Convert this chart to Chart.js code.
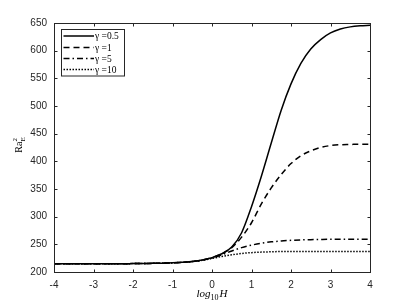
<!DOCTYPE html>
<html>
<head>
<meta charset="utf-8">
<script src="https://cdn.jsdelivr.net/npm/chart.js@4.4.1/dist/chart.umd.min.js"></script>
<style>
  html, body { margin: 0; padding: 0; background: #fff; }
  #wrap { width: 409px; height: 306px; }
</style>
</head>
<body>
<div id="wrap"><canvas id="grafica" width="409" height="306"></canvas></div>
<script>
// log10 H
var logH = [-4, -3.75, -3.5, -3.25, -3, -2.75, -2.5, -2.25, -2, -1.75, -1.5, -1.25, -1, -0.75, -0.5, -0.25,
            0, 0.25, 0.5, 0.75, 1, 1.25, 1.5, 1.75, 2, 2.25, 2.5, 2.75, 3, 3.25, 3.5, 3.75, 4];
var gamma05 = [215, 215, 215, 215, 215, 215, 215, 215, 215.2, 215.4, 215.6, 216, 216.6, 217.5, 219, 221.5,
               226, 233, 245, 271, 318, 373, 433, 492, 540, 577, 603, 620, 632, 639, 643, 645, 646];
var gamma1 = [215, 215, 215, 215, 215, 215, 215, 215, 215.2, 215.4, 215.6, 216, 216.6, 217.5, 219, 221.5,
              226, 233, 244, 263, 289, 323, 352, 376, 396, 410, 419, 425, 428.5, 430, 430.5, 431, 431];
var gamma5 = [215, 215, 215, 215, 215, 215, 215, 215, 215.2, 215.4, 215.6, 216, 216.6, 217.5, 219, 221.2,
              225, 231, 238, 244, 248.5, 252, 254.5, 256, 257.2, 258, 258.5, 258.8, 259, 259, 259, 259, 259];
var gamma10 = [215, 215, 215, 215, 215, 215, 215, 215, 215.2, 215.4, 215.6, 216, 216.6, 217.5, 219, 221,
               224.5, 228, 231, 233.5, 235, 236, 236.5, 237, 237, 237, 237, 237, 237, 237, 237, 237, 237];
var etiquetas = ['\u03b3 =0.5', '\u03b3 =1', '\u03b3 =5', '\u03b3 =10'];
var xTicks = [-4, -3, -2, -1, 0, 1, 2, 3, 4];
var yTicks = [200, 250, 300, 350, 400, 450, 500, 550, 600, 650];

var estilos = [[], [6, 4], [6, 3, 1.5, 3], [1.5, 1.5]];
var series = [gamma05, gamma1, gamma5, gamma10];

var puntos = function (ys) {
    return ys.map(function (v, i) { return {x: logH[i], y: v}; });
};

var ejeColor = '#262626';
var serif = '"Liberation Serif", "DejaVu Serif", serif';

// box, inward ticks, legend and axis labels (MATLAB look)
var marco = {
    id: 'marco',
    afterDraw: function (chart) {
        var ctx = chart.ctx, a = chart.chartArea;
        var sx = chart.scales.x, sy = chart.scales.y;
        var L = Math.round(a.left) + 0.5, R = Math.round(a.right) + 0.5;
        var T = Math.round(a.top) + 0.5, B = Math.round(a.bottom) + 0.5;
        ctx.save();
        ctx.strokeStyle = ejeColor;
        ctx.lineWidth = 1;
        ctx.strokeRect(L, T, R - L, B - T);
        ctx.beginPath();
        xTicks.forEach(function (t) {
            var px = Math.round(sx.getPixelForValue(t)) + 0.5;
            ctx.moveTo(px, B); ctx.lineTo(px, B - 3);
            ctx.moveTo(px, T); ctx.lineTo(px, T + 3);
        });
        yTicks.forEach(function (t) {
            var py = Math.round(sy.getPixelForValue(t)) + 0.5;
            ctx.moveTo(L, py); ctx.lineTo(L + 3, py);
            ctx.moveTo(R, py); ctx.lineTo(R - 3, py);
        });
        ctx.stroke();

        // legend
        ctx.fillStyle = '#fff';
        ctx.fillRect(61.5, 29.5, 63, 46.5);
        ctx.strokeStyle = ejeColor;
        ctx.strokeRect(61.5, 29.5, 63, 46.5);
        var filas = [36, 47.5, 58.5, 69.5];
        chart.data.datasets.forEach(function (ds, i) {
            ctx.beginPath();
            ctx.strokeStyle = '#000';
            ctx.lineWidth = 1.5;
            ctx.setLineDash(ds.borderDash);
            ctx.moveTo(63.5, filas[i]);
            ctx.lineTo(94, filas[i]);
            ctx.stroke();
            ctx.setLineDash([]);
            ctx.fillStyle = '#000';
            ctx.font = '9.5px ' + serif;
            ctx.textBaseline = 'middle';
            ctx.textAlign = 'left';
            ctx.fillText(ds.label, 95, filas[i] + 0.5);
        });

        // x label: log10 H
        ctx.fillStyle = '#000';
        ctx.textBaseline = 'alphabetic';
        var cx = (a.left + a.right) / 2;
        var p1 = 'log', p2 = '10', p3 = 'H';
        ctx.font = 'italic 11px ' + serif;
        var w1 = ctx.measureText(p1).width, w3 = ctx.measureText(p3).width;
        ctx.font = '8px ' + serif;
        var w2 = ctx.measureText(p2).width;
        var x0 = cx - (w1 + w2 + w3 + 1) / 2;
        ctx.font = 'italic 11px ' + serif;
        ctx.fillText(p1, x0, 297);
        ctx.font = '8px ' + serif;
        ctx.fillText(p2, x0 + w1, 300);
        ctx.font = 'italic 11px ' + serif;
        ctx.fillText(p3, x0 + w1 + w2 + 1, 297);

        // y label: Ra_E^2
        ctx.save();
        ctx.translate(22, 145);
        ctx.rotate(-Math.PI / 2);
        ctx.font = '10px ' + serif;
        var wr = ctx.measureText('Ra').width;
        ctx.font = '7px ' + serif;
        var we = ctx.measureText('E').width;
        var y0 = -(wr + we) / 2;
        ctx.font = '10px ' + serif;
        ctx.fillText('Ra', y0, 0);
        ctx.font = '7px ' + serif;
        ctx.fillText('E', y0 + wr, 3);
        ctx.fillText('2', y0 + wr, -5);
        ctx.restore();
        ctx.restore();
    }
};

var datos = {
    type: 'line',
    data: {
        datasets: series.map(function (s, i) {
            return {
                label: etiquetas[i],
                data: puntos(s),
                borderColor: '#000',
                borderWidth: 1.5,
                borderDash: estilos[i],
                pointRadius: 0,
                fill: false,
                cubicInterpolationMode: 'monotone'
            };
        })
    },
    options: {
        responsive: false,
        animation: false,
        layout: {padding: {top: 23, right: 39, left: 0, bottom: 0}},
        plugins: {legend: {display: false}, tooltip: {enabled: false}},
        scales: {
            x: {
                type: 'linear', min: -4, max: 4,
                grid: {display: false, drawTicks: false, tickLength: 0}, border: {display: false},
                afterBuildTicks: function (s) { s.ticks = xTicks.map(function (v) { return {value: v}; }); },
                ticks: {color: ejeColor, font: {family: 'Liberation Sans, Arial', size: 10}, padding: 7, maxRotation: 0},
                afterFit: function (s) { s.height = 34; }
            },
            y: {
                type: 'linear', min: 200, max: 650,
                grid: {display: false, drawTicks: false, tickLength: 0}, border: {display: false},
                afterBuildTicks: function (s) { s.ticks = yTicks.map(function (v) { return {value: v}; }); },
                ticks: {color: ejeColor, font: {family: 'Liberation Sans, Arial', size: 10}, padding: 7},
                afterFit: function (s) { s.width = 54; }
            }
        }
    },
    plugins: [marco]
};

var canvas = document.getElementById('grafica').getContext('2d');
window.linea = new Chart(canvas, datos);
</script>
</body>
</html>
